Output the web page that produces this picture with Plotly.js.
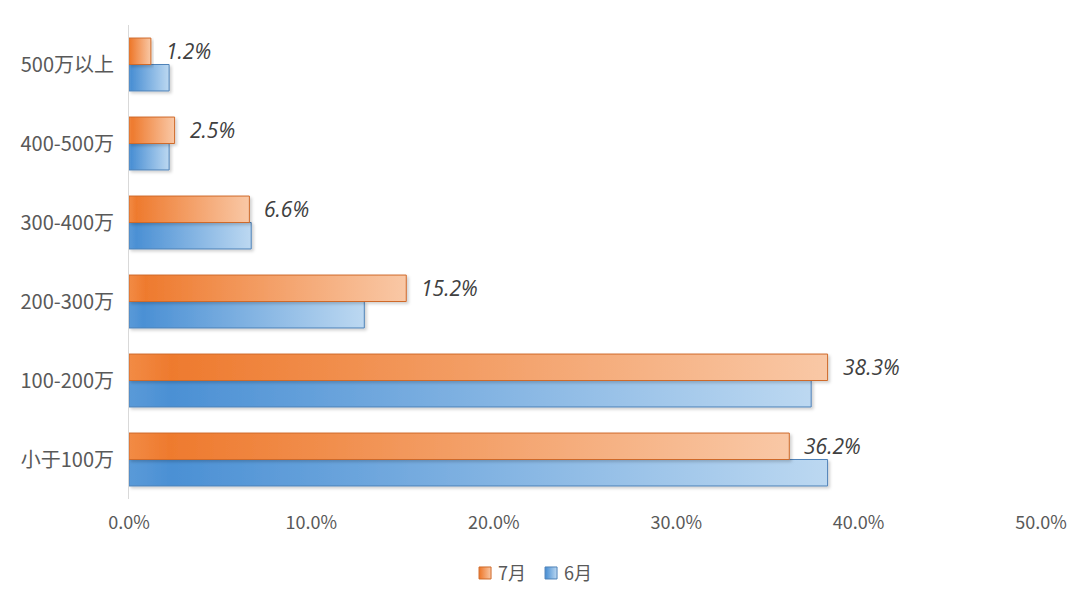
<!DOCTYPE html>
<html><head><meta charset="utf-8">
<script src="https://cdn.plot.ly/plotly-3.0.1.min.js"></script>
<style>html,body{margin:0;padding:0;background:#fff}#chart{width:1080px;height:606px}</style>
</head><body><div id="chart"></div>
<script>
// ---- data ----
const categories = ['小于100万', '100-200万', '200-300万', '300-400万', '400-500万', '500万以上'];
const july = [36.2, 38.3, 15.2, 6.6, 2.5, 1.2];
const june = [38.3, 37.4, 12.9, 6.7, 2.2, 2.2];
const julyLabels = ['36.2%', '38.3%', '15.2%', '6.6%', '2.5%', '1.2%'];
const xTickVals = [0, 10, 20, 30, 40, 50];
const xTickText = ['0.0%', '10.0%', '20.0%', '30.0%', '40.0%', '50.0%'];
const seriesNames = ['7月', '6月'];

const FONT = '"Noto Sans CJK SC", "Noto Sans", sans-serif';

const traces = [
  { type: 'bar', orientation: 'h', name: seriesNames[1], y: categories, x: june,
    marker: { color: '#6aa5dd', line: { color: '#4f82b8', width: 1 } }, hoverinfo: 'skip' },
  { type: 'bar', orientation: 'h', name: seriesNames[0], y: categories, x: july,
    marker: { color: '#f3a06a', line: { color: '#cf6a2a', width: 1 } }, hoverinfo: 'skip' }
];

const annotations = categories.map((c, i) => ({
  x: july[i], y: c, xref: 'x', yref: 'y', text: julyLabels[i], showarrow: false,
  xanchor: 'left', yanchor: 'middle', xshift: 13, yshift: 14,
  font: { family: '"Open Sans", "Noto Sans", sans-serif', size: 21, color: '#404040', style: 'italic' }
}));

const layout = {
  width: 1080, height: 606,
  margin: { l: 129, r: 39, t: 25, b: 107 },
  paper_bgcolor: '#ffffff', plot_bgcolor: '#ffffff',
  barmode: 'group', bargap: 0.33, bargroupgap: 0,
  font: { family: FONT, size: 18, color: '#595959' },
  xaxis: { range: [0, 50], tickvals: xTickVals, ticktext: xTickText, showgrid: false,
           zeroline: false, showline: false, ticks: '', ticklabelstandoff: 11,
           tickfont: { family: FONT, size: 18, color: '#595959' }, fixedrange: true },
  yaxis: { type: 'category', categoryorder: 'array', categoryarray: categories,
           showgrid: false, zeroline: false, showline: true, linecolor: '#d9d9d9', linewidth: 1,
           ticks: '', ticklabelstandoff: 10,
           tickfont: { family: FONT, size: 20, color: '#595959' }, fixedrange: true },
  showlegend: true,
  legend: { orientation: 'h', traceorder: 'reversed', xref: 'container', yref: 'container',
            x: 0.4917, y: 0.054, xanchor: 'center', yanchor: 'middle', entrywidth: 21, entrywidthmode: 'pixels',
            font: { family: FONT, size: 18, color: '#595959' }, itemclick: false, itemdoubleclick: false },
  annotations: annotations
};

function decorate(gd) {
  const NS = 'http://www.w3.org/2000/svg';
  const svg = gd.querySelector('svg.main-svg');
  let defs = svg.querySelector('defs');
  if (!defs) { defs = document.createElementNS(NS, 'defs'); svg.insertBefore(defs, svg.firstChild); }
  function grad(id, stops) {
    const g = document.createElementNS(NS, 'linearGradient');
    g.setAttribute('id', id);
    g.setAttribute('x1', '0'); g.setAttribute('y1', '0'); g.setAttribute('x2', '1'); g.setAttribute('y2', '0');
    stops.forEach(s => {
      const st = document.createElementNS(NS, 'stop');
      st.setAttribute('offset', s[0]); st.setAttribute('stop-color', s[1]);
      g.appendChild(st);
    });
    defs.appendChild(g);
  }
  grad('gradBlue', [['0', '#5a9ad8'], ['0.06', '#4b90d4'], ['1', '#bcd8f1']]);
  grad('gradOrange', [['0', '#f28b45'], ['0.06', '#ee7a2e'], ['1', '#f9c8a6']]);
  const f = document.createElementNS(NS, 'filter');
  f.setAttribute('id', 'barShadow'); f.setAttribute('x', '-5%'); f.setAttribute('y', '-20%');
  f.setAttribute('width', '115%'); f.setAttribute('height', '150%');
  const ds = document.createElementNS(NS, 'feDropShadow');
  ds.setAttribute('dx', '2'); ds.setAttribute('dy', '2'); ds.setAttribute('stdDeviation', '1.5');
  ds.setAttribute('flood-color', '#000'); ds.setAttribute('flood-opacity', '0.18');
  f.appendChild(ds); defs.appendChild(f);
  const fillFor = idx => idx === 0 ? 'url(#gradBlue)' : 'url(#gradOrange)';
  gd.querySelectorAll('.barlayer .trace').forEach(t => {
    const d = t.__data__; const idx = d && d[0] && d[0].trace ? d[0].trace.index : 0;
    t.querySelectorAll('path').forEach(p => { p.style.fill = fillFor(idx); p.setAttribute('filter', 'url(#barShadow)'); });
  });
  gd.querySelectorAll('.legend .traces').forEach(t => {
    const d = t.__data__; const idx = d && d[0] && d[0].trace ? d[0].trace.index : 0;
    t.querySelectorAll('.legendpoints path').forEach(p => { p.style.fill = fillFor(idx); });
    t.querySelectorAll('text.legendtext').forEach(tx => { tx.setAttribute('x', '33'); });
  });
}

Plotly.newPlot('chart', traces, layout, { displayModeBar: false, staticPlot: true }).then(decorate);
</script>
</body></html>
